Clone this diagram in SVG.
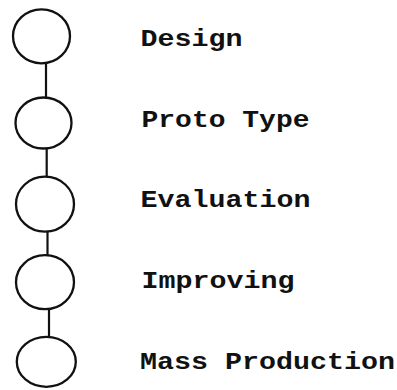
<svg xmlns="http://www.w3.org/2000/svg" width="397" height="390" viewBox="0 0 397 390">
<style>
.node ellipse{fill:none;stroke:#111;stroke-width:2.3}
.edges line{stroke:#111;stroke-width:2.2}
.lbl{font-family:"Liberation Mono","Courier New",monospace;font-size:23px;font-weight:bold;fill:#111}
</style>
<rect width="397" height="390" fill="#fff"/>
<g class="edges" id="connectors">
<line x1="46" y1="63" x2="46" y2="97.5"/>
<line x1="46.7" y1="148" x2="46.7" y2="177"/>
<line x1="47.5" y1="231.5" x2="47.5" y2="255"/>
<line x1="49" y1="309" x2="49" y2="337"/>
</g>
<g class="node" id="n1"><ellipse cx="41.5" cy="36.3" rx="28.5" ry="27"/><text class="lbl" x="140.5" y="45.7" textLength="102" lengthAdjust="spacingAndGlyphs">Design</text></g>
<g class="node" id="n2"><ellipse cx="43.5" cy="123" rx="28" ry="25.5"/><text class="lbl" x="141.5" y="126.7" textLength="168" lengthAdjust="spacingAndGlyphs">Proto Type</text></g>
<g class="node" id="n3"><ellipse cx="45" cy="204.2" rx="29" ry="27.5"/><text class="lbl" x="140.5" y="207.3" textLength="170" lengthAdjust="spacingAndGlyphs">Evaluation</text></g>
<g class="node" id="n4"><ellipse cx="45" cy="282.2" rx="29" ry="27"/><text class="lbl" x="141.5" y="288.3" textLength="153" lengthAdjust="spacingAndGlyphs">Improving</text></g>
<g class="node" id="n5"><ellipse cx="46.3" cy="361.8" rx="29.5" ry="25"/><text class="lbl" x="140" y="369" textLength="255" lengthAdjust="spacingAndGlyphs">Mass Production</text></g>
</svg>
